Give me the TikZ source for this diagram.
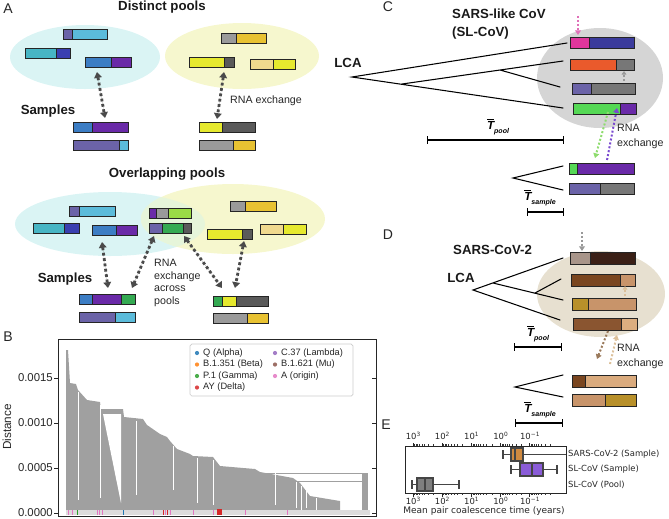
\documentclass[tikz,border=0pt]{standalone}
\usepackage{fontspec}
\setmainfont{Liberation Sans}
\newfontfamily\efont{DejaVu Sans}
\usetikzlibrary{arrows.meta}
\definecolor{barline}{HTML}{252525}
\definecolor{cyanpool}{HTML}{DAF4F4}
\definecolor{yelpool}{HTML}{F6F7CE}
\definecolor{greenpool}{HTML}{E6F5DA}
\definecolor{slate}{HTML}{6B63A8}
\definecolor{lblue}{HTML}{5BBBDA}
\definecolor{teal}{HTML}{47B5C4}
\definecolor{dblue}{HTML}{3A3FB0}
\definecolor{mblue}{HTML}{3C7DC4}
\definecolor{purp}{HTML}{6A2AA8}
\definecolor{lgray}{HTML}{9A9A9A}
\definecolor{gold}{HTML}{E8C232}
\definecolor{yel}{HTML}{E6E92E}
\definecolor{dgray}{HTML}{5A5A5A}
\definecolor{tan}{HTML}{F0D98E}
\definecolor{green}{HTML}{34AA52}
\definecolor{lgreen}{HTML}{9ADB46}
\definecolor{xgray}{HTML}{4A4A4A}
\definecolor{magenta}{HTML}{E0369C}
\definecolor{navy}{HTML}{3B3B9C}
\definecolor{orange}{HTML}{EA5A2C}
\definecolor{mgray}{HTML}{777777}
\definecolor{lime}{HTML}{55D855}
\definecolor{poolgray}{HTML}{D5D5D5}
\definecolor{tanpool}{HTML}{E7E0D0}
\definecolor{taupe}{HTML}{A8958A}
\definecolor{dbrown}{HTML}{3B2016}
\definecolor{brown}{HTML}{7A4620}
\definecolor{ltan}{HTML}{C8946A}
\definecolor{ochre}{HTML}{B8902A}
\definecolor{mbrown}{HTML}{8A5530}
\definecolor{ptan}{HTML}{DCAE80}
\definecolor{arrpink}{HTML}{E070B8}
\definecolor{arrgreen}{HTML}{8EDC6E}
\definecolor{arrpurp}{HTML}{7A4AD0}
\definecolor{arrgray}{HTML}{999999}
\definecolor{arrbrown}{HTML}{9A7A5C}
\definecolor{arrtan}{HTML}{DCC09A}
\definecolor{dendro}{HTML}{A0A0A0}
\definecolor{strip}{HTML}{DCDCDC}
\definecolor{alpha}{HTML}{1F77B4}
\definecolor{beta}{HTML}{FF7F0E}
\definecolor{gamma}{HTML}{2CA02C}
\definecolor{delta}{HTML}{D62728}
\definecolor{lambda}{HTML}{9467BD}
\definecolor{mu}{HTML}{8C564B}
\definecolor{origin}{HTML}{E377C2}
\definecolor{boxorange}{HTML}{D08A40}
\definecolor{boxpurp}{HTML}{8A5CD8}
\definecolor{boxgray}{HTML}{7F7F7F}
\definecolor{whisk}{HTML}{454545}
\def\bh{10}
% two- and three-part genome bars
\newcommand{\bartwo}[6]{%
\fill[#5] (#1,#4) rectangle (#2,#4+\bh);
\fill[#6] (#2,#4) rectangle (#3,#4+\bh);
\draw[bar] (#1,#4) rectangle (#3,#4+\bh) (#2,#4) -- (#2,#4+\bh);}
\newcommand{\barthree}[8]{%
\fill[#6] (#1,#5) rectangle (#2,#5+\bh);
\fill[#7] (#2,#5) rectangle (#3,#5+\bh);
\fill[#8] (#3,#5) rectangle (#4,#5+\bh);
\draw[bar] (#1,#5) rectangle (#4,#5+\bh) (#2,#5) -- (#2,#5+\bh) (#3,#5) -- (#3,#5+\bh);}
\newcommand{\tbar}[1]{\bfseries\itshape$\overline{\mbox{T}}$\raisebox{-0.7ex}{\fontsize{6}{6}\selectfont #1}}
\newcommand{\tenp}[1]{10\raisebox{0.6ex}{\fontsize{5}{5}\selectfont #1}}
\begin{document}
\begin{tikzpicture}[x=0.03cm,y=-0.03cm,
  bar/.style={draw=barline,line width=0.8pt},
  xchg/.style={{Triangle[length=5pt,width=6.5pt]}-{Triangle[length=5pt,width=6.5pt]},line width=2.4pt,dash pattern=on 2.4pt off 2.2pt,draw=xgray,fill=xgray},
  hop/.style={-{Triangle[length=4pt,width=5pt]},line width=1.7pt,dash pattern=on 1.7pt off 1.7pt},
  head/.style={font=\bfseries\fontsize{11.3}{15.3}\selectfont,text=black!90,inner sep=0pt},
  panel/.style={font=\fontsize{12}{14}\selectfont,text=black!85,inner sep=0pt},
  note/.style={font=\fontsize{9.1}{12.7}\selectfont,align=left,text=black!85,inner sep=0pt},
  tree/.style={line width=0.9pt,line cap=round},
  span/.style={{Bar[width=6pt]}-{Bar[width=6pt]},line width=0.9pt},
  frame/.style={draw=black!85,line width=0.8pt},
  axis/.style={font=\fontsize{9.7}{11}\selectfont,text=black!85,inner sep=0pt},
  leg/.style={font=\fontsize{7.9}{9}\selectfont,text=black!85,inner sep=0pt,anchor=west},
  efnt/.style={font=\efont\fontsize{7.2}{8}\selectfont,text=black!85,inner sep=0pt},
  whisker/.style={draw=whisk,line width=1.2pt},
  bp/.style={draw=whisk,line width=1pt}]
\useasboundingbox (0,0) rectangle (669,518);

% ---- A: distinct pools
\node[panel] (labA) at (8,9) {A};
\node[head] (hdist) at (162,7) {Distinct pools};
\fill[cyanpool] (85,57) ellipse [x radius=75,y radius=32];
\fill[yelpool] (242,56) ellipse [x radius=77,y radius=33];
\bartwo{63}{72}{107}{29}{slate}{lblue}
\bartwo{25}{56}{70}{48}{teal}{dblue}
\bartwo{85}{111}{131}{57}{mblue}{purp}
\bartwo{221}{236}{266}{33}{lgray}{gold}
\bartwo{189}{224}{234}{57}{yel}{dgray}
\bartwo{250}{273}{295}{59}{tan}{yel}
\bartwo{73}{92}{128}{122}{mblue}{purp}
\bartwo{73}{119}{128}{140}{slate}{lblue}
\bartwo{199}{222}{255}{122}{yel}{dgray}
\bartwo{199}{233}{255}{140}{lgray}{gold}
\node[head] (sampA) at (48,111) {Samples};
\node[note] (rnaA) at (266,101) {RNA exchange};
\coordinate (pA1) at (97,72); \coordinate (sA1) at (105,118);
\coordinate (pA2) at (224,72); \coordinate (sA2) at (217,119);
\draw[xchg] (pA1) -- (sA1);
\draw[xchg] (pA2) -- (sA2);

% ---- A: overlapping pools
\node[head] (hover) at (167,174) {Overlapping pools};
\fill[cyanpool] (110,224) ellipse [x radius=95,y radius=32];
\fill[yelpool] (233,219) ellipse [x radius=92,y radius=35];
\begin{scope}
\clip (110,224) ellipse [x radius=95,y radius=32];
\fill[greenpool] (233,219) ellipse [x radius=92,y radius=35];
\end{scope}
\bartwo{69}{79}{115}{206}{slate}{lblue}
\bartwo{33}{64}{79}{223}{teal}{dblue}
\bartwo{92}{116}{137}{225}{mblue}{purp}
\barthree{149}{156}{168}{191}{208}{purp}{lgray}{lgreen}
\barthree{149}{162}{183}{191}{223}{slate}{green}{dgray}
\bartwo{230}{245}{276}{201}{lgray}{gold}
\bartwo{207}{242}{252}{229}{yel}{dgray}
\bartwo{260}{283}{306}{224}{tan}{yel}
\barthree{79}{92}{121}{135}{294}{mblue}{purp}{green}
\bartwo{79}{115}{135}{312}{slate}{lblue}
\barthree{213}{222}{236}{268}{296}{green}{yel}{dgray}
\bartwo{213}{247}{268}{313}{lgray}{gold}
\node[head] (sampB) at (65,279) {Samples};
\node[note,anchor=north west,font=\fontsize{9.1}{10.8}\selectfont] (rnaB) at (154,259) {RNA\\exchange\\across\\pools};
\coordinate (pB1) at (102,242); \coordinate (sB1) at (108,288);
\coordinate (pB2) at (154,236); \coordinate (sB2) at (132,288);
\coordinate (pB3) at (184,236); \coordinate (sB3) at (222,288);
\coordinate (pB4) at (244,241); \coordinate (sB4) at (235,288);
\draw[xchg] (pB1) -- (sB1);
\draw[xchg] (pB2) -- (sB2);
\draw[xchg] (pB3) -- (sB3);
\draw[xchg] (pB4) -- (sB4);

% ---- B: dendrogram
\node[panel] (labB) at (8,337) {B};
\fill[dendro] (66,513) -- (66,350) -- (68,350) -- (70,383) -- (76,384) -- (78,390) -- (87,400)
  -- (100,402) -- (101,409) -- (123,409) -- (124,417) -- (143,419) -- (147,425) -- (160,434)
  -- (167,437) -- (170,441) -- (177,449) -- (190,454) -- (193,456) -- (213,457) -- (220,466)
  -- (255,469) -- (260,472) -- (293,478) -- (300,483) -- (310,496) -- (340,501) -- (340,513) -- cycle;
\fill[white] (103,414) -- (121,414) -- (121,503) -- cycle;
\fill[dendro] (362,473) rectangle (368,513);
\draw[dendro,line width=0.6pt] (262,473) -- (365,473) (262,481) -- (363,481);
\foreach \x/\a/\b in {78/392/500, 100/405/498, 136/421/495, 173/446/490, 197/458/503, 213/460/505,
  275/472/505, 296/482/508, 301/486/510, 306/490/508, 316/498/511}
  \draw[white,line width=0.5pt] (\x,\a) -- (\x,\b);
\fill[strip] (66,510) rectangle (370,515);
\foreach \x/\c in {68/origin, 72/origin, 97/origin, 99/origin, 102/origin, 153/origin, 165/origin,
  170/origin, 193/origin, 213/origin, 245/origin, 287/origin, 163/delta, 167/delta, 77/gamma, 123/alpha}
  \draw[\c,line width=0.8pt] (\x,510) -- (\x,515);
\fill[delta] (217,509) rectangle (222,515);
\draw[frame] (58,339) rectangle (376,516);
\foreach \v/\t in {0/0.0000, 5/0.0005, 10/0.0010, 15/0.0015} {
  \draw[frame] (54,513-\v*9) -- (58,513-\v*9) (372,513-\v*9) -- (376,513-\v*9);
  \node[axis,anchor=east] (yt\v) at (53,513-\v*9) {\t};
}
\node[axis,rotate=90,font=\fontsize{10}{11}\selectfont] (ylab) at (7,427) {Distance};
\draw[draw=black!20,fill=white,line width=0.6pt,rounded corners=1.5pt] (190,344) rectangle (353,396);
\foreach \n/\x/\y/\c/\t in {q/197/353/alpha/Q (Alpha), b/197/364.5/beta/B.1.351 (Beta),
  p/197/376/gamma/P.1 (Gamma), ay/197/387.5/delta/AY (Delta), c/275/353/lambda/C.37 (Lambda),
  m/275/364.5/mu/B.1.621 (Mu), o/275/376/origin/A (origin)} {
  \fill[\c!85] (\x,\y) circle (2.1);
  \node[leg] (leg\n) at (\x+6,\y) {\t};
}

% ---- C: SARS-like CoV
\node[panel] (labC) at (388,7) {C};
\node[head,anchor=west,align=left] (hsl) at (452,24) {SARS-like CoV\\(SL-CoV)};
\node[head] (lcaC) at (348,63) {LCA};
\fill[poolgray] (600,78) ellipse [x radius=63,y radius=50];
\def\bh{11}
\bartwo{570}{589}{634}{37}{magenta}{navy}
\bartwo{570}{616}{634}{59}{orange}{mgray}
\bartwo{572}{591}{635}{83}{slate}{mgray}
\bartwo{573}{620}{636}{103}{lime}{purp}
\bartwo{569}{577}{634}{163}{lime}{purp}
\bartwo{569}{600}{634}{183}{slate}{mgray}
\coordinate (rootC) at (352,77);
\coordinate (nC1) at (402,84);
\coordinate (nC2) at (500,70);
\coordinate (lC1) at (567,43); \coordinate (lC2) at (563,61);
\coordinate (lC3) at (560,87); \coordinate (lC4) at (563,108);
\draw[tree] (lC1) -- (rootC) -- (lC4) (nC1) -- (lC2) (nC2) -- (lC3);
\coordinate (rootCs) at (513,178);
\coordinate (sC1) at (563,166); \coordinate (sC2) at (563,190);
\draw[tree] (sC1) -- (rootCs) -- (sC2);
\coordinate (mgA) at (578,16); \coordinate (mgB) at (578,35);
\draw[hop,arrpink] (mgA) -- (mgB);
\coordinate (gyA) at (624,81); \coordinate (gyB) at (624,71);
\draw[hop,arrgray,-{Triangle[length=3pt,width=4pt]}] (gyA) -- (gyB);
\coordinate (grA) at (608,112); \coordinate (grB) at (595,158);
\draw[hop,arrgreen] (grA) -- (grB);
\coordinate (puA) at (607,160); \coordinate (puB) at (617,108);
\draw[hop,arrpurp] (puA) -- (puB);
\node[note,anchor=west] (rnaC) at (617,136) {RNA\\exchange};
\coordinate (tpC1) at (427,140); \coordinate (tpC2) at (564,140);
\draw[span] (tpC1) -- (tpC2);
\node (tpoolC) at (498,127) {\tbar{pool}};
\coordinate (tsC1) at (527,212); \coordinate (tsC2) at (564,212);
\draw[span] (tsC1) -- (tsC2);
\node (tsampC) at (540,198) {\tbar{sample}};

% ---- D: SARS-CoV-2
\node[panel] (labD) at (388,235) {D};
\node[head,anchor=west] (hsc2) at (453,250) {SARS-CoV-2};
\fill[tanpool] (601,294) ellipse [x radius=64,y radius=43];
\def\bh{12}
\bartwo{570}{590}{635}{252}{taupe}{dbrown}
\bartwo{571}{620}{635}{274}{brown}{ltan}
\bartwo{572}{588}{636}{298}{ochre}{ltan}
\bartwo{573}{621}{637}{318}{mbrown}{ptan}
\bartwo{572}{585}{636}{375}{brown}{ptan!90!ltan}
\bartwo{572}{605}{636}{394}{ltan}{ochre}
\node[head] (lcaD) at (461,278) {LCA};
\coordinate (rootD) at (473,290);
\coordinate (nD1) at (493,283);
\coordinate (nD2) at (535,293);
\coordinate (lD1) at (563,258); \coordinate (lD2) at (561,279);
\coordinate (lD3) at (563,300); \coordinate (lD4) at (560,320);
\draw[tree] (lD1) -- (rootD) -- (lD4) (nD1) -- (lD3) (nD2) -- (lD2);
\coordinate (rootDs) at (515,387);
\coordinate (sD1) at (563,375); \coordinate (sD2) at (563,397);
\draw[tree] (sD1) -- (rootDs) -- (sD2);
\coordinate (gdA) at (582,232); \coordinate (gdB) at (582,251);
\draw[hop,arrgray] (gdA) -- (gdB);
\coordinate (tnA) at (625,296); \coordinate (tnB) at (625,286);
\draw[hop,arrtan,-{Triangle[length=3pt,width=4pt]}] (tnA) -- (tnB);
\coordinate (bwA) at (608,331); \coordinate (bwB) at (597,359);
\draw[hop,arrbrown] (bwA) -- (bwB);
\coordinate (ltA) at (610,364); \coordinate (ltB) at (617,335);
\draw[hop,arrtan] (ltA) -- (ltB);
\node[note,anchor=west] (rnaD) at (617,356) {RNA\\exchange};
\coordinate (tpD1) at (514,347); \coordinate (tpD2) at (562,347);
\draw[span] (tpD1) -- (tpD2);
\node (tpoolD) at (538,334) {\tbar{pool}};
\coordinate (tsD1) at (515,423); \coordinate (tsD2) at (563,423);
\draw[span] (tsD1) -- (tsD2);
\node (tsampD) at (540,410) {\tbar{sample}};

% ---- E: coalescence times
\node[panel] (labE) at (386,425) {E};
\begin{scope}
\clip (405,446) rectangle (566,493);
\draw[whisker] (503,454.5) -- (570,454.5) (503,450) -- (503,459);
\filldraw[bp,fill=boxorange] (511,448) rectangle (523,461);
\draw[bp] (515,448) -- (515,461);
\draw[whisker] (511,469.5) -- (557,469.5) (511,465) -- (511,474) (557,465) -- (557,474);
\filldraw[bp,fill=boxpurp] (520,463) rectangle (543,476);
\draw[bp] (532,463) -- (532,476);
\draw[whisker] (412,484.5) -- (459,484.5) (412,480) -- (412,489) (459,480) -- (459,489);
\filldraw[bp,fill=boxgray] (417,478) rectangle (433,491);
\draw[bp] (425,478) -- (425,491);
\end{scope}
\draw[frame] (405,446) rectangle (566,493);
\foreach \d in {0,...,4} {
  \foreach \k in {2,...,9}
    \draw[black!80,line width=0.4pt] ({413+29.2*\d+(1-log10(\k))*29.2},446) -- ++(0,-2)
      ({413+29.2*\d+(1-log10(\k))*29.2},493) -- ++(0,2);
}
\foreach \d/\t in {0/3, 1/2, 2/1, 3/0, 4/−1} {
  \draw[black!85,line width=0.6pt] (413+29.2*\d,446) -- ++(0,-3.5) (413+29.2*\d,493) -- ++(0,3.5);
  \node[efnt] (et\d) at (413+29.2*\d,436) {\tenp{\t}};
  \node[efnt] (eb\d) at (413+29.2*\d,501) {\tenp{\t}};
}
\node[efnt,anchor=west] (rs2) at (568,454.5) {SARS-CoV-2 (Sample)};
\node[efnt,anchor=west] (rsl) at (568,469.5) {SL-CoV (Sample)};
\node[efnt,anchor=west] (rpl) at (568,484.5) {SL-CoV (Pool)};
\node[efnt,font=\efont\fontsize{7.7}{9}\selectfont] (exlab) at (484,511) {Mean pair coalescence time (years)};
\end{tikzpicture}
\end{document}
